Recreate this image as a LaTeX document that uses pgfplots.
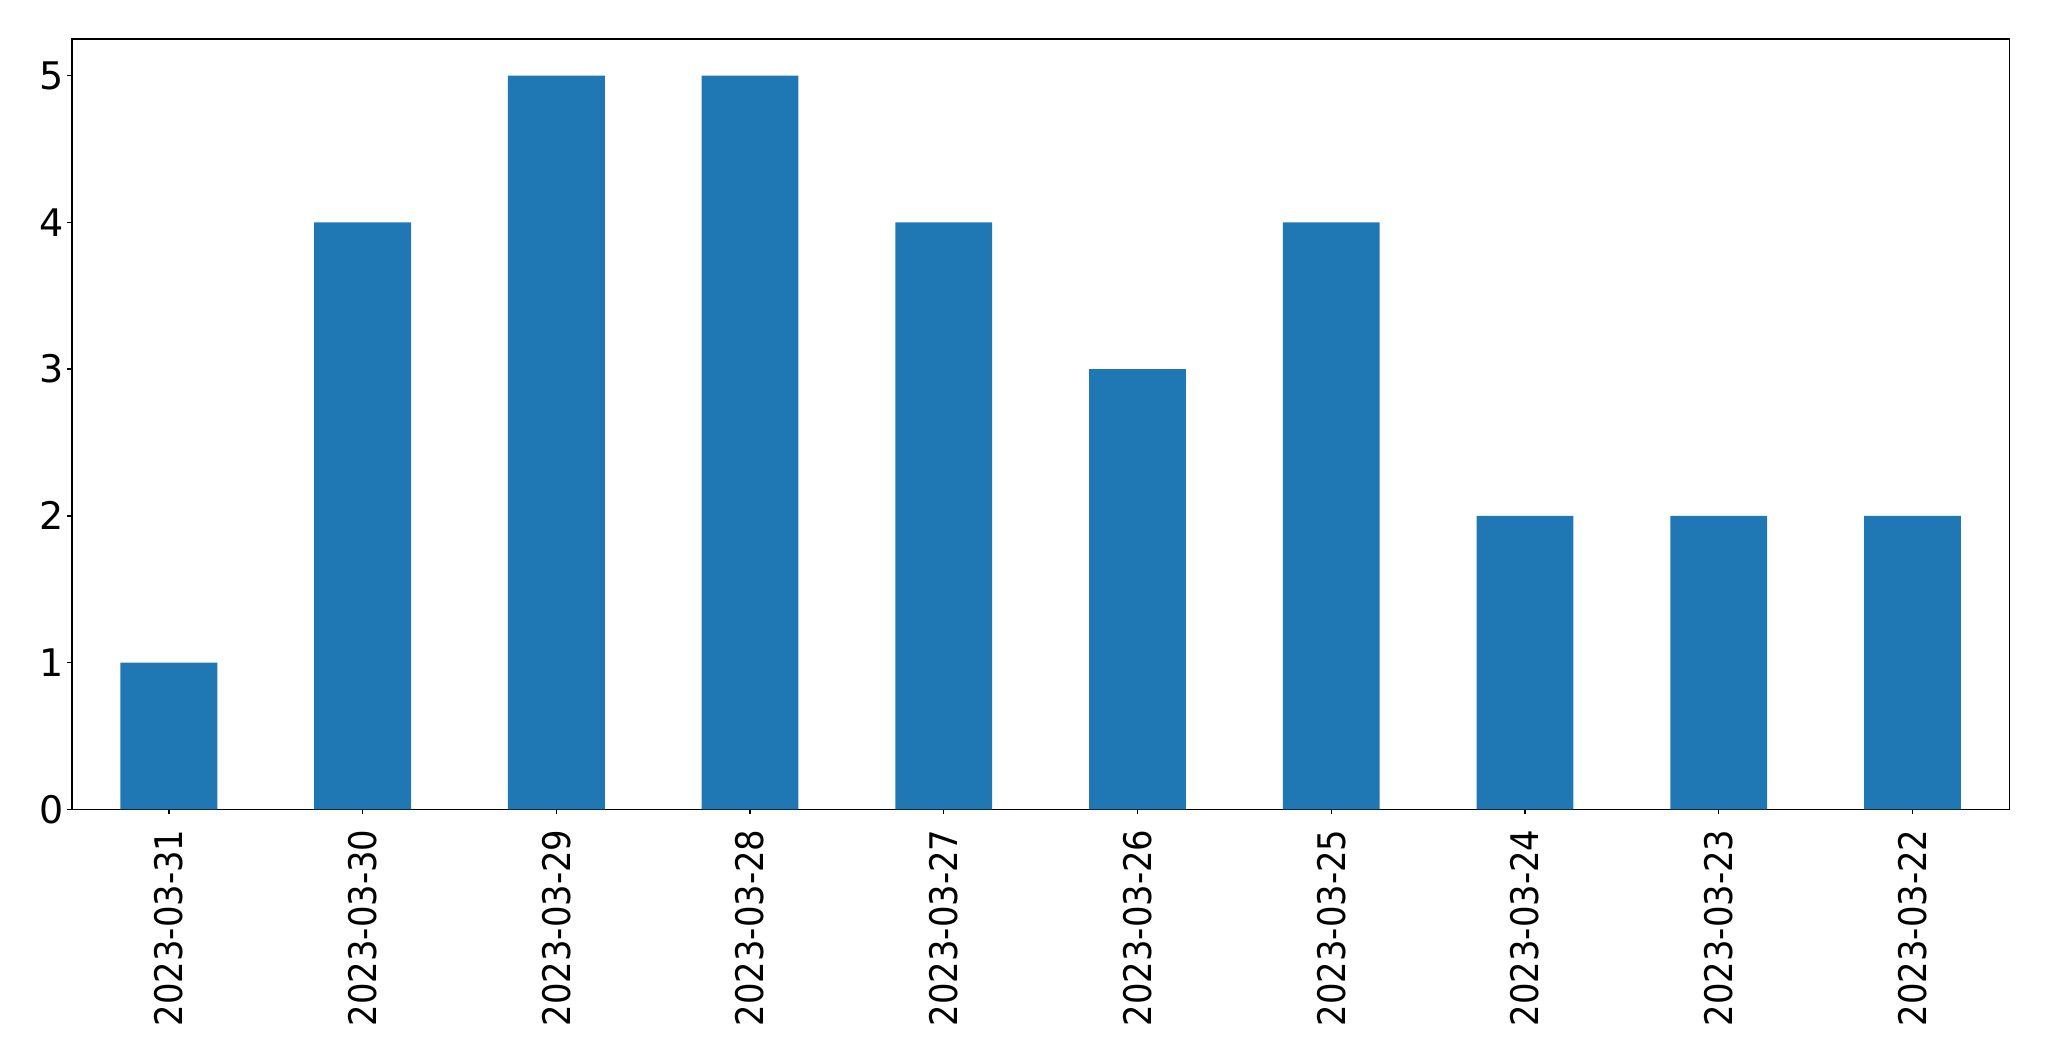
\documentclass[border=0pt]{standalone}
\usepackage{fontspec}
\setmainfont{DejaVu Sans}
\usepackage{graphicx}
\usepackage{pgfplots}
\pgfplotsset{compat=1.18}
\definecolor{mplblue}{HTML}{1F77B4}
\begin{document}
\begin{tikzpicture}
\useasboundingbox (-36pt,-125.85pt) rectangle (988.5pt,404.65pt);
\begin{axis}[
  at={(0,0)}, anchor=south west,
  scale only axis, width=968.65pt, height=385.15pt,
  xmin=-0.5, xmax=9.5, ymin=0, ymax=5.25,
  xtick={0,1,2,3,4,5,6,7,8,9},
  xticklabels={{\scalebox{0.89}[1]{2023-03-31}},{\scalebox{0.89}[1]{2023-03-30}},{\scalebox{0.89}[1]{2023-03-29}},{\scalebox{0.89}[1]{2023-03-28}},{\scalebox{0.89}[1]{2023-03-27}},{\scalebox{0.89}[1]{2023-03-26}},{\scalebox{0.89}[1]{2023-03-25}},{\scalebox{0.89}[1]{2023-03-24}},{\scalebox{0.89}[1]{2023-03-23}},{\scalebox{0.89}[1]{2023-03-22}}},
  ytick={0,1,2,3,4,5},
  tick align=outside, major tick length=2.4pt,
  tick style={black, line width=0.7pt},
  axis line style={line width=0.7pt},
  xtick pos=lower, ytick pos=left,
  /pgf/number format/assume math mode=true,
  ticklabel style={font=\fontsize{19}{22}\selectfont},
  yticklabel style={anchor=east, inner sep=0pt, xshift=-1.5pt},
  xticklabel style={rotate=90, anchor=east, inner sep=0pt, xshift=-7.5pt},
]
\addplot[ybar, bar width=0.5, fill=mplblue, draw=none] coordinates {(0,1) (1,4) (2,5) (3,5) (4,4) (5,3) (6,4) (7,2) (8,2) (9,2)};
\end{axis}
\end{tikzpicture}
\end{document}
